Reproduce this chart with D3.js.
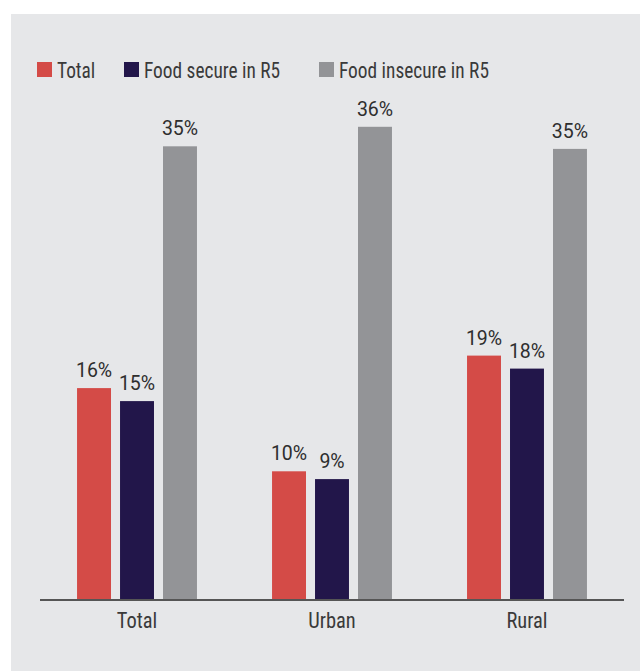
<!DOCTYPE html>
<html>
<head>
<meta charset="utf-8">
<script src="https://cdn.jsdelivr.net/npm/d3@7"></script>
<style>
  html, body { margin: 0; padding: 0; background: #fff; }
  svg text { fill: #2e2e2e; }
  .narrow { font-family: "Liberation Sans Narrow", "Roboto Condensed", "Arial Narrow", sans-serif; fill: #3a3a3a; }
  .value { font-family: Roboto, "Liberation Sans", sans-serif; }
</style>
</head>
<body>
<svg id="chart" width="640" height="671"></svg>
<script>
// Data
const categories = ['Total', 'Urban', 'Rural'];
const seriesNames = ['Total', 'Food secure in R5', 'Food insecure in R5'];
const totalValues = [16.3, 9.9, 18.8];
const secureValues = [15.3, 9.3, 17.8];
const insecureValues = [34.9, 36.4, 34.7];
const colors = ['#d44b47', '#22164a', '#939497'];

const seriesValues = [totalValues, secureValues, insecureValues];

const svg = d3.select('#chart');
const W = 640, H = 671;

// panel background
svg.append('rect')
  .attr('x', 11).attr('y', 14)
  .attr('width', W - 11).attr('height', H - 14)
  .attr('fill', '#e6e7e9');

const baseY = 600;

const x0 = d3.scaleBand()
  .domain(categories)
  .range([40, 624])
  .paddingInner(0.385)
  .paddingOuter(0.19);

const x1 = d3.scaleBand()
  .domain(seriesNames)
  .range([0, x0.bandwidth()])
  .paddingInner(0.21);

const y = d3.scaleLinear()
  .domain([0, 40])
  .range([baseY, 80]);

const rows = [];
categories.forEach((c, i) => {
  seriesNames.forEach((s, j) => {
    rows.push({ cat: c, series: s, value: seriesValues[j][i], color: colors[j] });
  });
});

const bars = svg.append('g');

bars.selectAll('rect')
  .data(rows)
  .join('rect')
  .attr('x', (d) => x0(d.cat) + x1(d.series))
  .attr('y', (d) => y(d.value))
  .attr('width', x1.bandwidth())
  .attr('height', (d) => baseY - y(d.value))
  .attr('fill', (d) => d.color);

bars.selectAll('text')
  .data(rows)
  .join('text')
  .attr('class', 'value')
  .attr('x', (d) => x0(d.cat) + x1(d.series) + x1.bandwidth() / 2)
  .attr('y', (d) => y(d.value) - 11)
  .attr('text-anchor', 'middle')
  .style('font-size', '19.5px')
  .text((d) => Math.round(d.value) + '%');

// baseline
svg.append('line')
  .attr('x1', 40).attr('x2', 624)
  .attr('y1', baseY).attr('y2', baseY)
  .attr('stroke', '#555')
  .attr('stroke-width', 2);

// category labels (condensed look)
svg.append('g').selectAll('text')
  .data(categories)
  .join('text')
  .attr('class', 'narrow')
  .attr('transform', (d) => `translate(${x0(d) + x0.bandwidth() / 2},${baseY + 28}) scale(0.93,1)`)
  .attr('text-anchor', 'middle')
  .style('font-size', '22px')
  .text((d) => d);

// legend
const legendX = [37, 124, 319];
const legend = svg.append('g').selectAll('g')
  .data(seriesNames)
  .join('g')
  .attr('transform', (d, i) => `translate(${legendX[i]},62)`);

legend.append('rect')
  .attr('width', 15).attr('height', 15)
  .attr('fill', (d, i) => colors[i]);

legend.append('text')
  .attr('class', 'narrow')
  .attr('transform', 'translate(20,16) scale(0.88,1)')
  .style('font-size', '22px')
  .text((d) => d);
</script>
</body>
</html>
